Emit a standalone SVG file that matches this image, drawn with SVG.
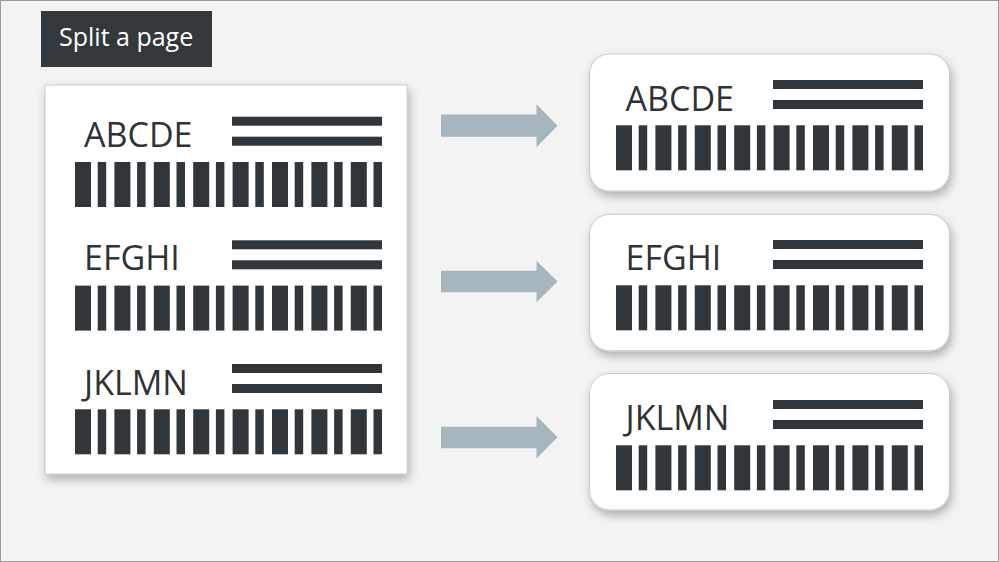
<svg xmlns="http://www.w3.org/2000/svg" xmlns:xlink="http://www.w3.org/1999/xlink" width="999" height="562" viewBox="0 0 999 562">
  <style>
    .bg { fill: #f3f3f3; stroke: #9a9a9a; stroke-width: 1; }
    .page { fill: #ffffff; stroke: #c9c9c9; stroke-width: 1; filter: url(#shadow); }
    .card { fill: #ffffff; stroke: #c9c9c9; stroke-width: 1; filter: url(#shadow); }
    .ink { fill: #31363a; }
    .lbl { font-family: "Open Sans", "Noto Sans", "Liberation Sans", sans-serif; font-size: 34px; fill: #2f3337; }
    .title { font-family: "Open Sans", "Noto Sans", "Liberation Sans", sans-serif; font-size: 25px; fill: #ffffff; }
    .arrow { fill: #a7b5be; }
  </style>
  <defs>
    <filter id="shadow" x="-10%" y="-10%" width="125%" height="130%">
      <feDropShadow dx="2" dy="5" stdDeviation="5" flood-color="#000000" flood-opacity="0.28"/>
    </filter>
    <g id="code" class="ink">
      <rect x="157" y="0" width="150" height="9"/>
      <rect x="157" y="20" width="150" height="9"/>
      <rect x="0" y="45.3" width="16" height="45"/>
      <rect x="22.7" y="45.3" width="8.5" height="45"/>
      <rect x="39.4" y="45.3" width="16" height="45"/>
      <rect x="62.1" y="45.3" width="8.5" height="45"/>
      <rect x="78.8" y="45.3" width="16" height="45"/>
      <rect x="101.5" y="45.3" width="8.5" height="45"/>
      <rect x="118.2" y="45.3" width="16" height="45"/>
      <rect x="140.9" y="45.3" width="8.5" height="45"/>
      <rect x="157.6" y="45.3" width="16" height="45"/>
      <rect x="180.3" y="45.3" width="8.5" height="45"/>
      <rect x="197" y="45.3" width="16" height="45"/>
      <rect x="219.7" y="45.3" width="8.5" height="45"/>
      <rect x="236.4" y="45.3" width="16" height="45"/>
      <rect x="259.1" y="45.3" width="8.5" height="45"/>
      <rect x="275.8" y="45.3" width="16" height="45"/>
      <rect x="298.5" y="45.3" width="8.5" height="45"/>
    </g>
  </defs>

  <rect class="bg" x="0.5" y="0.5" width="998" height="561"/>

  <g id="title">
    <rect x="41" y="11" width="171" height="56" fill="#33383d"/>
    <text class="title" x="59" y="46">Split a page</text>
  </g>

  <g id="page">
    <rect class="page" x="45" y="85" width="362" height="389"/>
    <g id="page-row1">
      <use xlink:href="#code" transform="translate(75,116.7)"/>
      <text class="lbl" x="84" y="146.7">ABCDE</text>
    </g>
    <g id="page-row2">
      <use xlink:href="#code" transform="translate(75,240.3)"/>
      <text class="lbl" x="84" y="270">EFGHI</text>
    </g>
    <g id="page-row3">
      <use xlink:href="#code" transform="translate(75,364)"/>
      <text class="lbl" x="84" y="395">JKLMN</text>
    </g>
  </g>

  <g id="card1">
    <rect class="card" x="589.5" y="54" width="360" height="137" rx="20"/>
    <use xlink:href="#code" transform="translate(616,80)"/>
    <text class="lbl" x="625.5" y="111">ABCDE</text>
  </g>
  <g id="card2">
    <rect class="card" x="589.5" y="214.3" width="360" height="136.5" rx="20"/>
    <use xlink:href="#code" transform="translate(616,240)"/>
    <text class="lbl" x="625.5" y="270">EFGHI</text>
  </g>
  <g id="card3">
    <rect class="card" x="589.5" y="373.5" width="360" height="136.5" rx="20"/>
    <use xlink:href="#code" transform="translate(616,400)"/>
    <text class="lbl" x="625.5" y="430">JKLMN</text>
  </g>

  <g id="connectors">
    <path class="arrow" d="M441,114.5 H536.5 V104.3 L557.5,125.8 L536.5,147.3 V136.8 H441 Z"/>
    <path class="arrow" d="M441,270.7 H536.5 V260.7 L557.5,281.5 L536.5,302.3 V292.3 H441 Z"/>
    <path class="arrow" d="M441,426.7 H536.5 V416 L557.5,437.3 L536.5,458.5 V448.3 H441 Z"/>
  </g>
</svg>
